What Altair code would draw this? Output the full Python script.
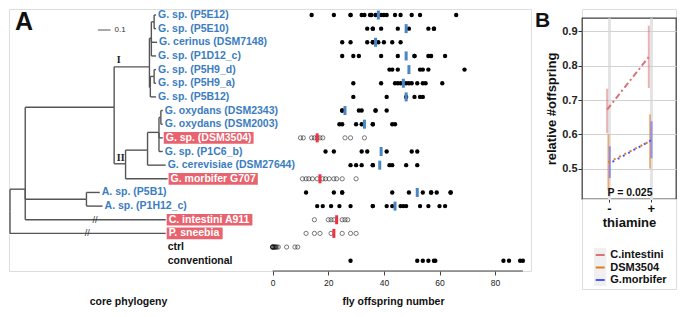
import altair as alt
import pandas as pd

FONT = "Liberation Sans"

# ---------------- Panel A data ----------------
strains = [
    "G. sp. (P5E12)", "G. sp. (P5E10)", "G. cerinus (DSM7148)", "G. sp. (P1D12_c)",
    "G. sp. (P5H9_d)", "G. sp. (P5H9_a)", "G. sp. (P5B12)", "G. oxydans (DSM2343)",
    "G. oxydans (DSM2003)", "G. sp. (DSM3504)", "G. sp. (P1C6_b)", "G. cerevisiae (DSM27644)",
    "G. morbifer G707", "A. sp. (P5B1)", "A. sp. (P1H12_c)", "C. intestini A911",
    "P. sneebia", "ctrl", "conventional",
]
strain_kind = ["iso"] * 9 + ["focal", "iso", "iso", "focal", "iso", "iso",
                             "focal", "focal", "ctrl", "conv"]

offspring = [
    [14, 22, 28, 28, 32, 33, 35, 35.5, 37, 39, 40, 41, 44, 46, 50, 53, 66],
    [34, 36, 36, 39, 45, 49, 56, 58, 58],
    [25, 28, 34, 36, 36, 38, 40, 43, 46],
    [25, 29, 31, 39, 45, 51, 51, 56, 57, 62],
    [42, 43, 45, 53, 54, 56, 69],
    [29, 39, 44, 45, 46, 47, 48, 49, 50, 52, 54, 55, 61],
    [29, 41, 48, 51, 53, 54],
    [25, 25, 31, 32, 37, 37, 41],
    [24, 25, 30, 32, 36, 36, 43, 44],
    [10, 11, 14, 15, 16, 17, 18, 26, 28, 33],
    [19, 22, 32, 34, 41, 50, 52],
    [28, 30, 32, 36, 36, 42, 43, 48, 52],
    [10.7, 12, 13, 14.3, 16, 18, 19, 20.3, 22, 23, 25, 30],
    [12, 22, 25, 25, 43, 49, 54, 57, 57, 59, 64, 64],
    [16, 18, 21, 24, 28, 36, 36, 41, 43, 46, 47, 48, 53, 56, 60, 62],
    [15, 20, 21, 22, 25, 26, 27],
    [12, 15, 17, 21, 25, 28, 30],
    [0, 0, 0, 0, 0.5, 0.5, 1, 1, 1.5, 2, 5, 8, 9],
    [28, 52, 54, 56, 58, 58.5, 83, 85, 89, 90],
]
centre_value = [38, 48, 37, 48, 49, 47, 48, 26, 33, 16, 39, 38.5, 17, 52, 44, 23, 22, None, None]
axis_ticks = [0, 20, 40, 60, 80]

# phylogeny (branch distances from root, row position)
node_name = ["root", "N1", "P. sneebia", "N2", "Aceto", "A. sp. (P5B1)", "A. sp. (P1H12_c)",
             "C. intestini A911",
             "I", "II", "Ia", "Ia1", "G. sp. (P5E12)", "G. sp. (P5E10)", "G. cerinus (DSM7148)",
             "G. sp. (P1D12_c)", "Ib", "Ib1", "G. sp. (P5H9_d)", "G. sp. (P5H9_a)", "G. sp. (P5B12)",
             "IIa", "IIa1", "IIa2", "G. oxydans (DSM2343)", "G. oxydans (DSM2003)", "G. sp. (DSM3504)",
             "G. sp. (P1C6_b)", "G. cerevisiae (DSM27644)", "G. morbifer G707"]
node_parent = [None, "root", "root", "N1", "N1", "Aceto", "Aceto",
               "N1",
               "N2", "N2", "I", "Ia", "Ia1", "Ia1", "Ia",
               "Ia", "I", "Ib", "Ib1", "Ib1", "Ib",
               "II", "IIa", "IIa1", "IIa2", "IIa2", "IIa1",
               "IIa1", "IIa", "II"]
node_dist = [0.0, 0.120, 1.226, 0.820, 0.602, 0.707, 0.729,
             1.226,
             1.098, 0.910, 1.113, 1.135, 1.150, 1.150, 1.158,
             1.150, 1.105, 1.135, 1.150, 1.150, 1.150,
             1.083, 1.173, 1.188, 1.203, 1.203, 1.203,
             1.203, 1.226, 1.241]
node_row = [14.4, 12.76, 16, 6.76, 13.5, 13, 14,
            15,
            3.8, 10.9, 1.7, 0.5, 0, 1, 2,
            3, 5.3, 4.5, 4, 5, 6,
            9.9, 8.6, 7.5, 7, 8, 9,
            10, 11, 12]
clade_text = ["I", "II"]
clade_dist = [0.855, 0.872]
clade_row = [3.3, 10.45]
break_strain = ["C. intestini A911", "P. sneebia"]
break_dist = [0.669, 0.609]
scalebar_dist = 0.692
scalebar_len = 0.1
scalebar_row = 1.1

# ---------------- Panel B data ----------------
series = ["C.intestini", "DSM3504", "G.morbifer"]
thiamine_levels = ["-", "+"]
mean_minus = [0.672, 0.518, 0.515]
mean_plus = [0.826, 0.580, 0.583]
lo_minus = [0.603, 0.436, 0.472]
hi_minus = [0.733, 0.600, 0.565]
lo_plus = [0.735, 0.500, 0.530]
hi_plus = [0.917, 0.658, 0.638]
p_label = "P = 0.025"

# ---------------- styling / layout ----------------
BLUE_TXT = "#3b7dbf"
RED_BOX = "#e8636e"
BLUE_BAR = "#4a86c4"
RED_BAR = "#ee3340"
series_colors = ["#d9737a", "#e07c22", "#4b55ff"]
series_dash = [[6, 3, 2, 3], [2, 4], [0, 3, 2, 1]]
dodge = [-0.045, -0.015, 0.02]

TREE_PX = 127.0
STRIP_PX = 2.78
W_A, H_A = 522, 262
ROW_TOP, ROW_STEP = 6.0, 13.65
STRIP_ZERO = 263.7

ARIAL_BOLD = {"G": 778, ".": 278, " ": 278, "s": 556, "p": 611, "(": 333, ")": 333, "D": 722,
              "S": 667, "M": 833, "m": 889, "o": 611, "r": 389, "b": 611, "i": 278, "f": 333,
              "e": 556, "C": 722, "n": 611, "t": 333, "A": 722, "P": 667, "a": 556}


def text_px(s, size):
    return sum(ARIAL_BOLD.get(c, 556) for c in s) * size / 1000.0


LABEL_SIZE = 10.5

row_scale = alt.Scale(domain=[-ROW_TOP / ROW_STEP, (H_A - ROW_TOP) / ROW_STEP],
                      reverse=True, nice=False, zero=False)
tree_scale = alt.Scale(domain=[-1 / TREE_PX, (W_A - 1) / TREE_PX], nice=False, zero=False)
strip_scale = alt.Scale(domain=[-STRIP_ZERO / STRIP_PX, (W_A - STRIP_ZERO) / STRIP_PX],
                        nice=False, zero=False)

# tree segments
pos = {n: (d, r) for n, d, r in zip(node_name, node_dist, node_row)}
segs = []
for n, p in zip(node_name, node_parent):
    if p is None:
        continue
    d, r = pos[n]
    pd_, pr = pos[p]
    segs.append({"x1": pd_, "x2": d, "y1": r, "y2": r})
    segs.append({"x1": pd_, "x2": pd_, "y1": pr, "y2": r})
seg_df = pd.DataFrame(segs)

lab_rows = []
for i, (s, k) in enumerate(zip(strains, strain_kind)):
    d = pos[s][0] if s in pos else 1.226
    pad = 3 if k == "focal" else 2
    tx = d + pad / TREE_PX
    w = text_px(s, LABEL_SIZE)
    lab_rows.append({"strain": s, "row": i, "kind": k, "tx": tx,
                     "bx1": tx - 2 / TREE_PX, "bx2": tx + (w + 2) / TREE_PX,
                     "by1": i - 0.43, "by2": i + 0.43})
lab_df = pd.DataFrame(lab_rows)

pts = []
for i, vals in enumerate(offspring):
    for v in vals:
        pts.append({"row": i, "value": v, "kind": strain_kind[i]})
pts_df = pd.DataFrame(pts)
filled_df = pts_df[pts_df.kind.isin(["iso", "conv"])]
open_df = pts_df[pts_df.kind.isin(["focal", "ctrl"])]

bar_df = pd.DataFrame([{"row": i, "value": v, "kind": strain_kind[i]}
                       for i, v in enumerate(centre_value) if v is not None])

all_vals = [v for vals in offspring for v in vals]
axis_line_df = pd.DataFrame({"x1": [axis_ticks[0]], "x2": [max(all_vals)]})

brk_df = pd.DataFrame({"d": break_dist, "row": [strains.index(s) for s in break_strain]})
clade_df = pd.DataFrame({"t": clade_text, "d": clade_dist, "row": clade_row})
sb_df = pd.DataFrame({"x1": [scalebar_dist], "x2": [scalebar_dist + scalebar_len],
                      "row": [scalebar_row], "t": [str(scalebar_len)]})


def Yrow(f="row"):
    return alt.Y(f + ":Q", scale=row_scale, axis=None)


def Xtree(f):
    return alt.X(f + ":Q", scale=tree_scale, axis=None)


def Xstrip(f, axis=None):
    return alt.X(f + ":Q", scale=strip_scale, axis=axis)


tree_layer = alt.Chart(seg_df).mark_rule(color="#555555", strokeWidth=1.4).encode(
    x=alt.X("x1:Q", scale=tree_scale,
            axis=alt.Axis(orient="bottom", labels=False, ticks=False, domain=False, grid=False,
                          title="core phylogeny", titleX=119, titlePadding=25,
                          titleFontSize=10.5, titleFontWeight="bold", titleFont=FONT,
                          titleColor="#111111")),
    x2="x2:Q", y=Yrow("y1"), y2="y2:Q")

sb_layer = alt.Chart(sb_df).mark_rule(color="#aaaaaa", strokeWidth=2).encode(
    x=Xtree("x1"), x2="x2:Q", y=Yrow("row"))
sb_text = alt.Chart(sb_df).mark_text(align="left", baseline="middle", fontSize=8, dx=4,
                                     font=FONT, color="#333333").encode(
    x=Xtree("x2"), y=Yrow("row"), text="t:N")

clade_layer = alt.Chart(clade_df).mark_text(font="Liberation Serif", fontWeight="bold",
                                            fontSize=10, color="#222222").encode(
    x=Xtree("d"), y=Yrow("row"), text="t:N")

brk_layer = alt.Chart(brk_df).mark_text(text="//", fontSize=9, color="#333333",
                                        font=FONT).encode(x=Xtree("d"), y=Yrow("row"))

box_layer = alt.Chart(lab_df[lab_df.kind == "focal"]).mark_rect(color=RED_BOX).encode(
    x=Xtree("bx1"), x2="bx2:Q", y=Yrow("by1"), y2="by2:Q")


def label_layer(kinds, colour):
    return alt.Chart(lab_df[lab_df.kind.isin(kinds)]).mark_text(
        align="left", baseline="middle", fontSize=LABEL_SIZE, fontWeight="bold", font=FONT,
        color=colour).encode(x=Xtree("tx"), y=Yrow("row"), text="strain:N")


lab_iso = label_layer(["iso"], BLUE_TXT)
lab_focal = label_layer(["focal"], "#ffffff")
lab_other = label_layer(["ctrl", "conv"], "#111111")

panel_letter_a = alt.Chart(pd.DataFrame({"t": ["A"]})).mark_text(
    align="left", baseline="top", fontSize=25, fontWeight="bold", font=FONT,
    color="#111111").encode(x=alt.value(6), y=alt.value(0.5), text="t:N")

strip_axis = alt.Axis(orient="bottom", values=axis_ticks, domain=False, grid=False, tickSize=4,
                      tickColor="#444444", labelFontSize=8.5, labelColor="#222222",
                      labelPadding=3, labelFont=FONT, title="fly offspring number",
                      titleFontSize=10.5, titleFontWeight="bold", titleFont=FONT,
                      titleColor="#111111", titleX=384, titlePadding=10)

filled_layer = alt.Chart(filled_df).mark_circle(size=19, color="#000000", opacity=1).encode(
    x=Xstrip("value", strip_axis), y=Yrow("row"))
open_layer = alt.Chart(open_df).mark_point(shape="circle", filled=False, size=18,
                                           color="#111111", strokeWidth=0.8).encode(
    x=Xstrip("value"), y=Yrow("row"))
bar_iso = alt.Chart(bar_df[bar_df.kind == "iso"]).mark_tick(
    orient="vertical", thickness=3, size=9, opacity=1, color=BLUE_BAR).encode(
    x=Xstrip("value"), y=Yrow("row"))
bar_focal = alt.Chart(bar_df[bar_df.kind == "focal"]).mark_tick(
    orient="vertical", thickness=3, size=9, opacity=1, color=RED_BAR).encode(
    x=Xstrip("value"), y=Yrow("row"))
axis_line = alt.Chart(axis_line_df).mark_rule(color="#444444", strokeWidth=1).encode(
    x=Xstrip("x1"), x2="x2:Q", y=alt.value(H_A))

panel_a = alt.layer(
    tree_layer, sb_layer, sb_text, clade_layer, brk_layer, box_layer,
    lab_iso, lab_focal, lab_other, panel_letter_a,
    filled_layer, open_layer, bar_iso, bar_focal, axis_line
).resolve_scale(x="independent").properties(width=W_A, height=H_A)

# ---------------- Panel B ----------------
b_rows = []
for i, s in enumerate(series):
    for j, t in enumerate(thiamine_levels):
        b_rows.append({
            "series": s, "thiamine": t, "xpos": j + dodge[i],
            "mean": [mean_minus, mean_plus][j][i],
            "lo": [lo_minus, lo_plus][j][i], "hi": [hi_minus, hi_plus][j][i],
        })
bdf = pd.DataFrame(b_rows)

W_B, H_B = 94, 181
bx_scale = alt.Scale(domain=[-27 / 41.7, (W_B - 27) / 41.7], nice=False, zero=False)
by_scale = alt.Scale(domain=[0.411, 0.9394], nice=False, zero=False)
bx_axis = alt.Axis(values=[0, 1], labelExpr="datum.value == 0 ? '-' : '+'", grid=True,
                   gridColor="#e4e4e4", gridWidth=3, domain=False, tickSize=3,
                   tickColor="#333333", labelFontSize=13, labelFontWeight="bold",
                   labelColor="#111111", labelFont=FONT, labelPadding=0, title="thiamine",
                   titleFontSize=13, titleFontWeight="bold", titleFont=FONT,
                   titleColor="#111111", titlePadding=1)
by_axis = alt.Axis(values=[0.5, 0.6, 0.7, 0.8, 0.9], format=".1f", grid=True,
                   gridColor="#d2d2d2", gridWidth=1, domain=False, tickSize=4,
                   tickColor="#333333", labelFontSize=11, labelFontWeight="bold",
                   labelColor="#222222", labelFont=FONT, labelPadding=1,
                   title="relative #offspring", titleFontSize=13, titleFontWeight="bold",
                   titleFont=FONT, titleColor="#111111", titlePadding=3)
color_b = alt.Color("series:N", scale=alt.Scale(domain=series, range=series_colors), legend=None)

err_layer = alt.Chart(bdf).mark_rule(strokeWidth=2, opacity=0.55).encode(
    x=alt.X("xpos:Q", scale=bx_scale, axis=bx_axis),
    y=alt.Y("lo:Q", scale=by_scale, axis=by_axis), y2="hi:Q", color=color_b)
line_layer = alt.Chart(bdf).mark_line(strokeWidth=2).encode(
    x=alt.X("xpos:Q", scale=bx_scale, axis=bx_axis),
    y=alt.Y("mean:Q", scale=by_scale, axis=by_axis), color=color_b, detail="series:N",
    strokeDash=alt.StrokeDash("series:N", scale=alt.Scale(domain=series, range=series_dash),
                              legend=None))
p_layer = alt.Chart(pd.DataFrame({"t": [p_label]})).mark_text(
    fontSize=10.5, fontWeight="bold", font=FONT, color="#111111").encode(
    x=alt.datum(0.504), y=alt.datum(0.429), text="t:N")

panel_b_plot = alt.layer(err_layer, line_layer, p_layer).properties(
    width=W_B, height=H_B, view=alt.ViewBackground(stroke="#444444", strokeWidth=1.3))

spacer_b = alt.Chart(pd.DataFrame({"t": ["B"]})).mark_text(
    align="left", baseline="top", fontSize=21, fontWeight="bold", font=FONT,
    color="#111111").encode(x=alt.value(-47), y=alt.value(0.5), text="t:N").properties(
    width=W_B, height=9)

leg_df = pd.DataFrame({"series": series})
leg_y = alt.Y("series:N", sort=series, scale=alt.Scale(type="point", range=[56, 81], padding=0),
              axis=None)
leg_box = alt.Chart(pd.DataFrame({"k": [1]})).mark_rect(color="#f0f0f0").encode(
    x=alt.value(12), x2=alt.value(24.3), y=alt.value(49), y2=alt.value(87))
leg_sym = alt.Chart(leg_df).mark_rule(strokeWidth=2).encode(
    x=alt.value(13.7), x2=alt.value(22.7), y=leg_y, color=color_b)
leg_txt = alt.Chart(leg_df).mark_text(align="left", baseline="middle", fontSize=11,
                                      fontWeight="bold", font=FONT, color="#111111").encode(
    x=alt.value(28.3), y=leg_y, text="series:N")
legend_b = alt.layer(leg_box, leg_sym, leg_txt).properties(width=W_B, height=90)

panel_b = alt.vconcat(spacer_b, panel_b_plot, legend_b, spacing=0, bounds="flush")

chart = alt.hconcat(panel_a, panel_b, spacing=51, bounds="flush").properties(
    padding=0).configure_view(stroke=None).configure(font=FONT)

chart.save("out.html", embed_options={"renderer": "svg", "actions": False})
